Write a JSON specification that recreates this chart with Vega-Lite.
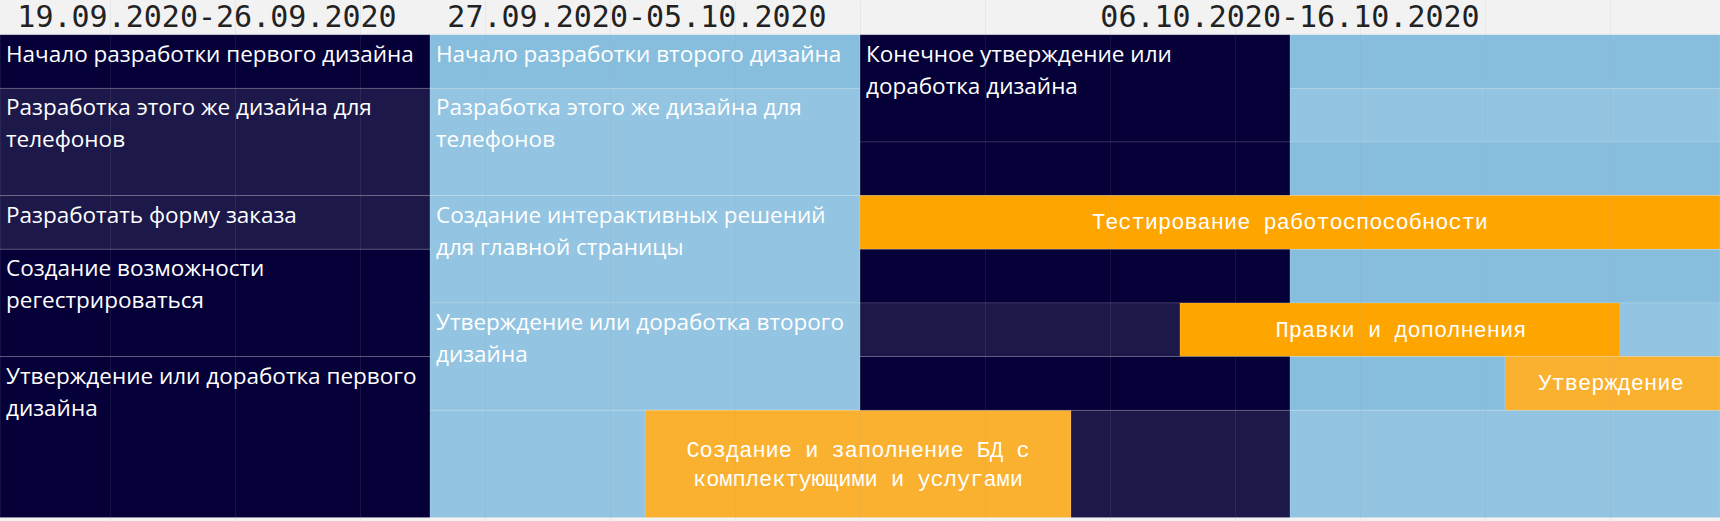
{
  "$schema": "https://vega.github.io/schema/vega-lite/v6.json",
  "width": 1720,
  "height": 521,
  "autosize": "none",
  "padding": 0,
  "background": "#f2f2f2",
  "config": {"view": {"stroke": null}},
  "datasets": {
    "cells": [
      {"x": 0, "x2": 43, "y": 0, "y2": 1, "kind": "dark", "label": "Начало разработки первого дизайна", "style": "left"},
      {"x": 0, "x2": 43, "y": 1, "y2": 3, "kind": "dark2", "label": "Разработка этого же дизайна для\nтелефонов", "style": "left"},
      {"x": 0, "x2": 43, "y": 3, "y2": 4, "kind": "dark2", "label": "Разработать форму заказа", "style": "left"},
      {"x": 0, "x2": 43, "y": 4, "y2": 6, "kind": "dark", "label": "Создание возможности\nрегестрироваться", "style": "left"},
      {"x": 0, "x2": 43, "y": 6, "y2": 9, "kind": "dark", "label": "Утверждение или доработка первого\nдизайна", "style": "left"},
      {"x": 43, "x2": 86, "y": 0, "y2": 1, "kind": "blue", "label": "Начало разработки второго дизайна", "style": "left"},
      {"x": 43, "x2": 86, "y": 1, "y2": 3, "kind": "blue2", "label": "Разработка этого же дизайна для\nтелефонов", "style": "left"},
      {"x": 43, "x2": 86, "y": 3, "y2": 5, "kind": "blue2", "label": "Создание интерактивных решений\nдля главной страницы", "style": "left"},
      {"x": 43, "x2": 86, "y": 5, "y2": 7, "kind": "blue2", "label": "Утверждение или доработка второго\nдизайна", "style": "left"},
      {"x": 43, "x2": 64.5, "y": 7, "y2": 9, "kind": "blue2", "label": "", "style": "none"},
      {"x": 64.5, "x2": 107.1, "y": 7, "y2": 9, "kind": "amber", "label": "Создание и заполнение БД с\nкомплектующими и услугами", "style": "center", "mid": 85.8, "ym": 7.742},
      {"x": 107.1, "x2": 129, "y": 7, "y2": 9, "kind": "dark2", "label": "", "style": "none"},
      {"x": 129, "x2": 172, "y": 7, "y2": 9, "kind": "blue2", "label": "", "style": "none"},
      {"x": 86, "x2": 129, "y": 0, "y2": 2, "kind": "dark", "label": "Конечное утверждение или\nдоработка дизайна", "style": "left"},
      {"x": 129, "x2": 172, "y": 0, "y2": 1, "kind": "blue", "label": "", "style": "none"},
      {"x": 129, "x2": 172, "y": 1, "y2": 2, "kind": "blue2", "label": "", "style": "none"},
      {"x": 86, "x2": 129, "y": 2, "y2": 3, "kind": "dark", "label": "", "style": "none"},
      {"x": 129, "x2": 172, "y": 2, "y2": 3, "kind": "blue", "label": "", "style": "none"},
      {"x": 86, "x2": 172, "y": 3, "y2": 4, "kind": "orange", "label": "Тестирование работоспособности", "style": "center", "mid": 129, "ym": 3.5},
      {"x": 86, "x2": 129, "y": 4, "y2": 5, "kind": "dark", "label": "", "style": "none"},
      {"x": 129, "x2": 172, "y": 4, "y2": 5, "kind": "blue", "label": "", "style": "none"},
      {"x": 86, "x2": 118, "y": 5, "y2": 6, "kind": "dark2", "label": "", "style": "none"},
      {"x": 118, "x2": 162, "y": 5, "y2": 6, "kind": "orange", "label": "Правки и дополнения", "style": "center", "mid": 140.1, "ym": 5.5},
      {"x": 162, "x2": 172, "y": 5, "y2": 6, "kind": "blue2", "label": "", "style": "none"},
      {"x": 86, "x2": 129, "y": 6, "y2": 7, "kind": "dark", "label": "", "style": "none"},
      {"x": 129, "x2": 150.5, "y": 6, "y2": 7, "kind": "blue", "label": "", "style": "none"},
      {"x": 150.5, "x2": 172, "y": 6, "y2": 7, "kind": "amber", "label": "Утверждение", "style": "center", "mid": 161.1, "ym": 6.5}
    ],
    "headers": [
      {"x": 20.7, "y": -0.144, "text": "19.09.2020-26.09.2020"},
      {"x": 63.7, "y": -0.144, "text": "27.09.2020-05.10.2020"},
      {"x": 129, "y": -0.144, "text": "06.10.2020-16.10.2020"}
    ]
  },
  "layer": [
    {
      "data": {"name": "cells"},
      "mark": {"type": "rect", "stroke": "#ffffff", "strokeOpacity": 0.13, "strokeWidth": 1},
      "encoding": {
        "x": {"field": "x", "type": "quantitative",
              "scale": {"domain": [0, 172], "nice": false, "zero": false},
              "axis": {"values": [11, 23.5, 36, 48.5, 61, 73.5, 86, 98.5, 111, 123.5, 136, 148.5, 161],
                       "grid": true, "gridColor": "#9a9a9a", "gridOpacity": 0.12, "labels": false,
                       "ticks": false, "domain": false, "title": null, "zindex": 1}},
        "x2": {"field": "x2"},
        "y": {"field": "y", "type": "quantitative",
              "scale": {"domain": [-0.647, 9.066], "nice": false, "zero": false, "reverse": true},
              "axis": null},
        "y2": {"field": "y2"},
        "color": {"field": "kind", "type": "nominal",
                  "scale": {"domain": ["dark", "dark2", "blue", "blue2", "orange", "amber"],
                            "range": ["#050038", "#1c1849", "#87bedd", "#93c4e1", "#ffa500", "#fbb130"]},
                  "legend": null}
      }
    },
    {
      "data": {"name": "cells"},
      "transform": [{"filter": "datum.style === 'left'"}],
      "mark": {"type": "text", "align": "left", "baseline": "alphabetic", "dx": 6, "dy": 27,
               "font": "Open Sans", "fontSize": 22.5, "lineHeight": 32, "lineBreak": "\n", "color": "#ffffff"},
      "encoding": {
        "x": {"field": "x", "type": "quantitative"},
        "y": {"field": "y", "type": "quantitative"},
        "text": {"field": "label", "type": "nominal"}
      }
    },
    {
      "data": {"name": "cells"},
      "transform": [{"filter": "datum.style === 'center'"}],
      "mark": {"type": "text", "align": "center", "baseline": "middle",
               "font": "Liberation Mono", "fontSize": 22, "lineHeight": 29.5, "lineBreak": "\n", "color": "#ffffff"},
      "encoding": {
        "x": {"field": "mid", "type": "quantitative"},
        "y": {"field": "ym", "type": "quantitative"},
        "text": {"field": "label", "type": "nominal"}
      }
    },
    {
      "data": {"name": "headers"},
      "mark": {"type": "text", "align": "center", "baseline": "alphabetic",
               "font": "DejaVu Sans Mono", "fontSize": 30, "color": "#222222"},
      "encoding": {
        "x": {"field": "x", "type": "quantitative"},
        "y": {"field": "y", "type": "quantitative"},
        "text": {"field": "text", "type": "nominal"}
      }
    }
  ]
}
